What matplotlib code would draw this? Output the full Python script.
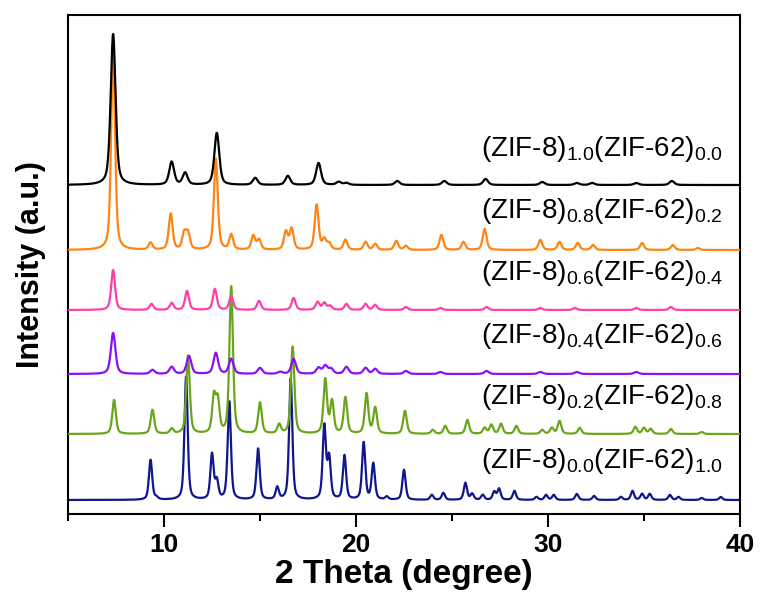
import numpy as np
import matplotlib
matplotlib.use("Agg")
import matplotlib.pyplot as plt

plt.rcParams['font.family'] = ['Liberation Sans', 'DejaVu Sans']
plt.rcParams['mathtext.fontset'] = 'custom'
plt.rcParams['mathtext.rm'] = 'Liberation Sans'

# Peak lists: 2theta (deg) and height (pixels of the plot)
zif8_pos = [7.35, 10.4, 11.1, 12.75, 14.75, 16.45, 18.05, 19.1, 19.5, 22.15,
            24.6, 26.75, 29.7, 31.5, 32.3, 34.6, 36.45]
zif8_h = [151, 23, 12, 52, 7, 9, 22, 3, 2, 4, 4, 6, 3, 2, 2, 2, 4]

mix82_pos = [7.35, 9.3, 10.35, 11.05, 11.25, 12.7, 13.5, 14.65, 14.95, 16.35,
             16.65, 17.95, 18.35, 18.6, 19.45, 20.5, 21.0, 22.1, 22.6, 24.45,
             25.6, 26.7, 29.6, 30.6, 31.55, 32.35, 34.9, 36.5, 37.8]
mix82_h = [200, 7, 36, 16, 16, 91, 15, 14, 10, 18, 21, 45, 10, 6, 10, 8, 6, 9,
           4, 15, 8, 21, 10, 8, 7, 5, 7, 5, 2]

mix64_pos = [7.35, 9.35, 10.4, 11.2, 12.65, 13.5, 14.95, 16.75, 18.0, 18.35,
             18.65, 19.5, 20.5, 21.0, 22.6, 24.4, 26.8, 29.6, 31.4, 34.6, 36.4]
mix64_h = [40, 6, 7, 19, 21, 14, 9, 12, 8, 7, 4, 6, 6, 5, 3, 2, 3, 2, 2, 2, 3]

mix46_pos = [7.35, 9.4, 10.4, 11.3, 12.7, 13.5, 15.0, 16.05, 16.75, 18.05,
             18.4, 18.7, 19.5, 20.5, 21.0, 22.6, 24.4, 26.8, 29.6, 31.5, 34.6]
mix46_h = [41, 4, 7, 18, 21, 15, 6, 2, 15, 6, 8, 5, 7, 6, 5, 3, 2, 3, 2, 2, 2]

mix28_pos = [7.4, 9.4, 10.4, 11.25, 12.6, 12.8, 13.5, 15.0, 16.0, 16.7, 18.4,
             18.75, 19.45, 20.55, 21.0, 22.55, 24.0, 24.65, 25.8, 26.7, 27.05,
             27.55, 28.35, 29.7, 30.2, 30.6, 31.65, 34.55, 35.0, 35.35, 36.4, 38.0]
mix28_h = [34, 24, 5, 78, 36, 32, 147, 31, 9, 87, 54, 32, 36, 40, 26, 23, 4, 8,
           14, 6, 9, 10, 8, 4, 6, 13, 6, 7, 6, 5, 5, 2]

zif62_pos = [9.3, 9.6, 11.15, 12.5, 12.75, 13.4, 14.9, 15.9, 16.6, 18.35,
             18.6, 19.4, 20.4, 20.9, 21.6, 22.5, 23.95, 24.55, 25.7, 26.05,
             26.6, 27.2, 27.45, 28.25, 29.4, 29.9, 30.3, 31.5, 32.4, 33.8,
             34.4, 34.9, 35.3, 36.35, 36.8, 38.0, 39.0]
zif62_h = [40, 2, 123, 45, 18, 98, 51, 12, 121, 73, 41, 44, 57, 36, 3, 30, 5,
           7, 17, 6, 5, 8, 11, 9, 3, 5, 5, 6, 4, 3, 9, 6, 6, 5, 3, 2, 3]

labels = [r'(ZIF-8)$_{1.0}$(ZIF-62)$_{0.0}$',
          r'(ZIF-8)$_{0.8}$(ZIF-62)$_{0.2}$',
          r'(ZIF-8)$_{0.6}$(ZIF-62)$_{0.4}$',
          r'(ZIF-8)$_{0.4}$(ZIF-62)$_{0.6}$',
          r'(ZIF-8)$_{0.2}$(ZIF-62)$_{0.8}$',
          r'(ZIF-8)$_{0.0}$(ZIF-62)$_{1.0}$']


# build a pattern from a peak list (pseudo-Voigt profile)
def pattern(x, pos, h, w, eta=0.5):
    y = np.zeros_like(x)
    for p, a in zip(pos, h):
        d = (x - p) / w
        y += a * (eta / (1 + d**2) + (1 - eta) * np.exp(-np.log(2) * d**2))
    return y


x = np.linspace(5, 40, 3501)

# (peaks, heights, hwhm, baseline, colour, label y)
series = [
    (zif62_pos, zif62_h, 0.1, 14, '#10168C', 46),
    (mix28_pos, mix28_h, 0.11, 80, '#6AA61C', 110),
    (mix46_pos, mix46_h, 0.14, 140, '#8A10F5', 171),
    (mix64_pos, mix64_h, 0.12, 204, '#FF3FA8', 234),
    (mix82_pos, mix82_h, 0.12, 264, '#FF8411', 296),
    (zif8_pos, zif8_h, 0.15, 329, '#000000', 358),
]

fig = plt.figure(figsize=(7.62, 5.99), dpi=100)
ax = fig.add_axes([68 / 762, 85 / 599, 672 / 762, 499 / 599])

for i, (pos, h, w, base, col, ly) in enumerate(series):
    ax.plot(x, base + pattern(x, pos, h, w), color=col, lw=1.6, zorder=2 + i)
    ax.text(26.5, ly, labels[5 - i], fontsize=20, ha='left', va='baseline')

ax.set_xlim(5, 40)
ax.set_ylim(0, 499)
ax.set_yticks([])
ax.set_xticks([10, 20, 30, 40])
ax.set_xticks([5, 15, 25, 35], minor=True)
ax.tick_params(axis='x', which='major', direction='out', length=9, width=1.5,
               top=False, labelsize=19, pad=5)
ax.tick_params(axis='x', which='minor', direction='out', length=5, width=1.5,
               top=False)
for lab in ax.get_xticklabels():
    lab.set_fontweight('bold')
for s in ax.spines.values():
    s.set_linewidth(1.5)

ax.set_xlabel('2 Theta (degree)', fontsize=24, fontweight='bold', labelpad=1)
ax.set_ylabel('Intensity (a.u.)', fontsize=22, fontweight='bold', labelpad=16)

fig.savefig('out.png', dpi=100)
